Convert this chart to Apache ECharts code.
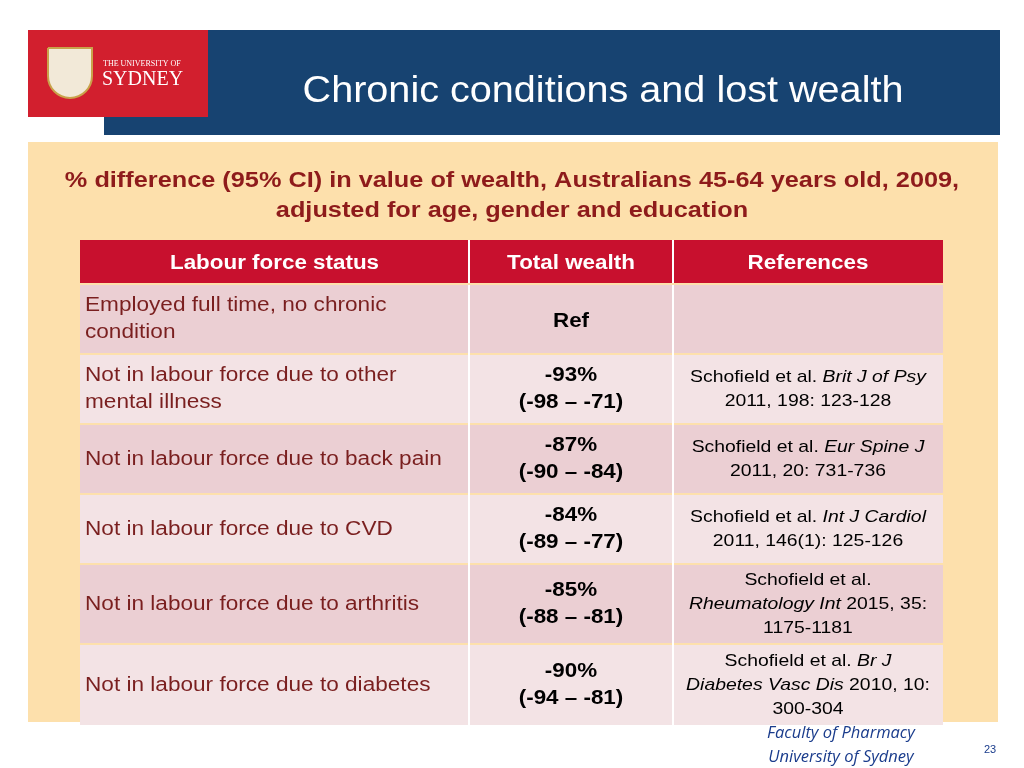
<!DOCTYPE html>
<html><head><meta charset="utf-8">
<script src="https://cdn.jsdelivr.net/npm/echarts@6/dist/echarts.min.js"></script>
<style>html,body{margin:0;padding:0;background:#fff}#c{width:1024px;height:768px}</style>
</head><body><div id="c"></div>
<script>
const title = 'Chronic conditions and lost wealth';
const subtitle = ['% difference (95% CI) in value of wealth, Australians 45-64 years old, 2009,', 'adjusted for age, gender and education'];
const headers = ['Labour force status', 'Total wealth', 'References'];
const statuses = [
  'Employed full time, no chronic\ncondition',
  'Not in labour force due to other\nmental illness',
  'Not in labour force due to back pain',
  'Not in labour force due to CVD',
  'Not in labour force due to arthritis',
  'Not in labour force due to diabetes'
];
const wealth = ['Ref', '-93%\n(-98 – -71)', '-87%\n(-90 – -84)', '-84%\n(-89 – -77)', '-85%\n(-88 – -81)', '-90%\n(-94 – -81)'];
// {i|...} marks italic journal names
const refs = [
  '',
  'Schofield et al. {i|Brit J of Psy}\n2011, 198: 123-128',
  'Schofield et al. {i|Eur Spine J}\n2011, 20: 731-736',
  'Schofield et al. {i|Int J Cardiol}\n2011, 146(1): 125-126',
  'Schofield et al.\n{i|Rheumatology Int} 2015, 35:\n1175-1181',
  'Schofield et al. {i|Br J}\n{i|Diabetes Vasc Dis} 2010, 10:\n300-304'
];

const colX = [80, 469, 673, 943];
const rowY = [285, 355, 425, 495, 565, 645, 727];
const els = [];
// text placed at (x, y), stretched horizontally like the slide's fonts
function txt(x, y, style, sx) {
  return {type: 'text', x: x, y: y, scaleX: sx || 1.12, style: Object.assign({x: 0, y: 0}, style)};
}
els.push({type: 'rect', shape: {x: 104, y: 30, width: 896, height: 105}, style: {fill: '#174371'}});
els.push({type: 'rect', shape: {x: 28, y: 30, width: 180, height: 87}, style: {fill: '#d21f2e'}});
els.push({type: 'rect', shape: {x: 48, y: 48, width: 44, height: 50, r: [0, 0, 22, 22]}, style: {fill: '#f2e9d8', stroke: '#c9a24a', lineWidth: 2}});
els.push({type: 'text', style: {x: 103, y: 60, text: 'THE UNIVERSITY OF', fill: '#fff', font: '8px "Liberation Serif"'}});
els.push({type: 'text', style: {x: 102, y: 70, text: 'SYDNEY', fill: '#fff', font: '20px "Liberation Serif"'}});
els.push(txt(603, 92, {text: title, fill: '#fff', font: '36px "Liberation Sans"', align: 'center', verticalAlign: 'middle'}, 1.1));
els.push({type: 'rect', shape: {x: 28, y: 142, width: 970, height: 580}, style: {fill: '#fde0ac'}});
subtitle.forEach((s, k) => els.push(txt(512, 181 + k * 30, {text: s, fill: '#8e1b1b', font: 'bold 22px "Liberation Sans"', align: 'center', verticalAlign: 'middle'}, 1.15)));
// header row
els.push({type: 'rect', shape: {x: colX[0], y: 240, width: colX[3] - colX[0], height: 43}, style: {fill: '#c8102e'}});
headers.forEach((h, k) => els.push(txt((colX[k] + colX[k + 1]) / 2, 263, {text: h, fill: '#fff', font: 'bold 20px "Liberation Sans"', align: 'center', verticalAlign: 'middle'})));
for (let k = 1; k < 3; k++) els.push({type: 'line', shape: {x1: colX[k], y1: 240, x2: colX[k], y2: 283}, style: {stroke: '#fff', lineWidth: 2}});
statuses.forEach((s, r) => {
  const y0 = rowY[r], y1 = rowY[r + 1] - 2, cy = (y0 + y1) / 2;
  els.push({type: 'rect', shape: {x: colX[0], y: y0, width: colX[3] - colX[0], height: y1 - y0}, style: {fill: r % 2 === 0 ? '#ebcfd3' : '#f3e3e5'}});
  els.push(txt(colX[0] + 5, cy, {text: s, fill: '#7a1f1f', font: '20px "Liberation Sans"', lineHeight: 27, verticalAlign: 'middle'}, 1.13));
  els.push(txt((colX[1] + colX[2]) / 2, r === 0 ? cy + 2 : cy, {text: wealth[r], fill: '#000', font: 'bold 20px "Liberation Sans"', lineHeight: 27, align: 'center', verticalAlign: 'middle'}));
  els.push(txt((colX[2] + colX[3]) / 2, cy, {text: refs[r], fill: '#000', font: '17px "Liberation Sans"', lineHeight: 24, align: 'center', verticalAlign: 'middle', rich: {i: {fontStyle: 'italic', fontSize: 17, fontFamily: 'Liberation Sans', fill: '#000'}}}, 1.14));
});
for (let k = 1; k < 3; k++) els.push({type: 'line', shape: {x1: colX[k], y1: 285, x2: colX[k], y2: 725}, style: {stroke: '#fff', lineWidth: 2}});
els.push({type: 'text', style: {x: 841, y: 733, text: 'Faculty of Pharmacy', fill: '#1a3c8c', font: 'italic 16.5px "Open Sans"', align: 'center', verticalAlign: 'middle'}});
els.push({type: 'text', style: {x: 841, y: 757, text: 'University of Sydney', fill: '#1a3c8c', font: 'italic 16.5px "Open Sans"', align: 'center', verticalAlign: 'middle'}});
els.push({type: 'text', style: {x: 990, y: 750, text: '23', fill: '#1a3c8c', font: '11px "Liberation Sans"', align: 'center', verticalAlign: 'middle'}});

const chart = echarts.init(document.getElementById('c'));
chart.setOption({graphic: {elements: els}});
</script></body></html>
